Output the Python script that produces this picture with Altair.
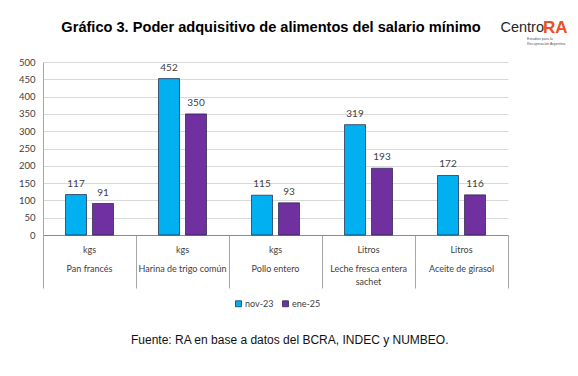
import altair as alt
import pandas as pd

categories = ["Pan francés", "Harina de trigo común", "Pollo entero",
              "Leche fresca entera sachet", "Aceite de girasol"]
display_names = ["Pan francés", "Harina de trigo común", "Pollo entero",
                 "Leche fresca entera\nsachet", "Aceite de girasol"]
units = ["kgs", "kgs", "kgs", "Litros", "Litros"]
series = ["nov-23", "ene-25"]
nov23 = [117, 452, 115, 319, 172]
ene25 = [91, 350, 93, 193, 116]
colors = ["#00B0F0", "#7030A0"]

title_text = "Gráfico 3. Poder adquisitivo de alimentos del salario mínimo"
source_text = "Fuente: RA en base a datos del BCRA, INDEC y NUMBEO."

rows = []
for i, c in enumerate(categories):
    rows.append({"category": c, "series": "nov-23", "value": nov23[i]})
    rows.append({"category": c, "series": "ene-25", "value": ene25[i]})
df = pd.DataFrame(rows)
labels_df = pd.DataFrame({"category": categories, "unit": units, "name": display_names})

W, H = 465, 173
FONT = "Liberation Sans"
NFONT = "Lato"

x_enc = alt.X("category:N", sort=categories,
              scale=alt.Scale(paddingInner=0, paddingOuter=0),
              axis=alt.Axis(labels=False, title=None, domain=True, domainColor="#8c8c8c",
                            ticks=True, tickBand="extent", tickSize=53, tickColor="#a6a6a6",
                            tickWidth=1, grid=False))
xoff = alt.XOffset("series:N", sort=series,
                   scale=alt.Scale(paddingInner=0.222, paddingOuter=0.833))
y_enc = alt.Y("value:Q", scale=alt.Scale(domain=[0, 500], nice=False),
              axis=alt.Axis(values=list(range(0, 501, 50)), title=None, grid=True,
                            gridColor="#d9d9d9", domainColor="#a6a6a6", ticks=False,
                            labelFontSize=9.5, labelColor="#404040", labelFont=NFONT,
                            labelPadding=8, labelOverlap=False))

bars = alt.Chart(df).mark_bar(stroke="#1f1f3f", strokeWidth=0.7).encode(
    x=x_enc, xOffset=xoff, y=y_enc,
    color=alt.Color("series:N", sort=series,
                    scale=alt.Scale(domain=series, range=colors),
                    legend=alt.Legend(orient="none", legendX=191, legendY=237,
                                      direction="horizontal", title=None,
                                      symbolType="square", symbolSize=36,
                                      symbolStrokeColor="#1f1f3f", symbolStrokeWidth=0.7,
                                      labelFontSize=9, labelFont=NFONT, labelColor="#404040",
                                      columnPadding=7, symbolOffset=0, labelOffset=2))
)

values = alt.Chart(df).mark_text(dy=-6, baseline="bottom", fontSize=10, font=NFONT,
                                 color="#404040").encode(
    x=alt.X("category:N", sort=categories), xOffset=alt.XOffset("series:N", sort=series),
    y=y_enc, text="value:Q")

unit_text = alt.Chart(labels_df).mark_text(fontSize=9, font=NFONT, color="#404040",
                                           baseline="middle").encode(
    x=alt.X("category:N", sort=categories), y=alt.value(H + 15), text="unit:N")

name_text = alt.Chart(labels_df).mark_text(fontSize=9, font=NFONT, color="#404040",
                                           baseline="middle", lineBreak="\n",
                                           lineHeight=13).encode(
    x=alt.X("category:N", sort=categories), y=alt.value(H + 34), text="name:N")

def note(text, x, y, size, weight="normal", color="#000000", align="center", font=FONT):
    return alt.Chart(pd.DataFrame({"t": [text]})).mark_text(
        fontSize=size, fontWeight=weight, color=color, align=align, baseline="middle",
        font=font).encode(text="t:N", x=alt.value(x), y=alt.value(y))

title = note(title_text, 228, -34, 14.6, "bold")
source = note(source_text, 88, 278, 12, align="left", color="#111111")
logo1 = note("Centro", 501, -34, 14.5, color="#262626", align="right")
logo2 = note("RA", 500, -34, 17, "bold", color="#F04E23", align="left")
logo3 = note("Estudios para la", 484, -23, 3.6, color="#555555", align="left")
logo4 = note("Recuperación Argentina", 484, -18.5, 3.6, color="#555555", align="left")

chart = alt.layer(bars, values, unit_text, name_text, title, source,
                  logo1, logo2, logo3, logo4).properties(
    width=W, height=H,
    autosize=alt.AutoSizeParams(type="none"),
    padding={"left": 35, "top": 54, "right": 62, "bottom": 133},
    background="white",
).configure_view(stroke=None)

chart.save("out.html", embed_options={"renderer": "svg", "actions": False})
